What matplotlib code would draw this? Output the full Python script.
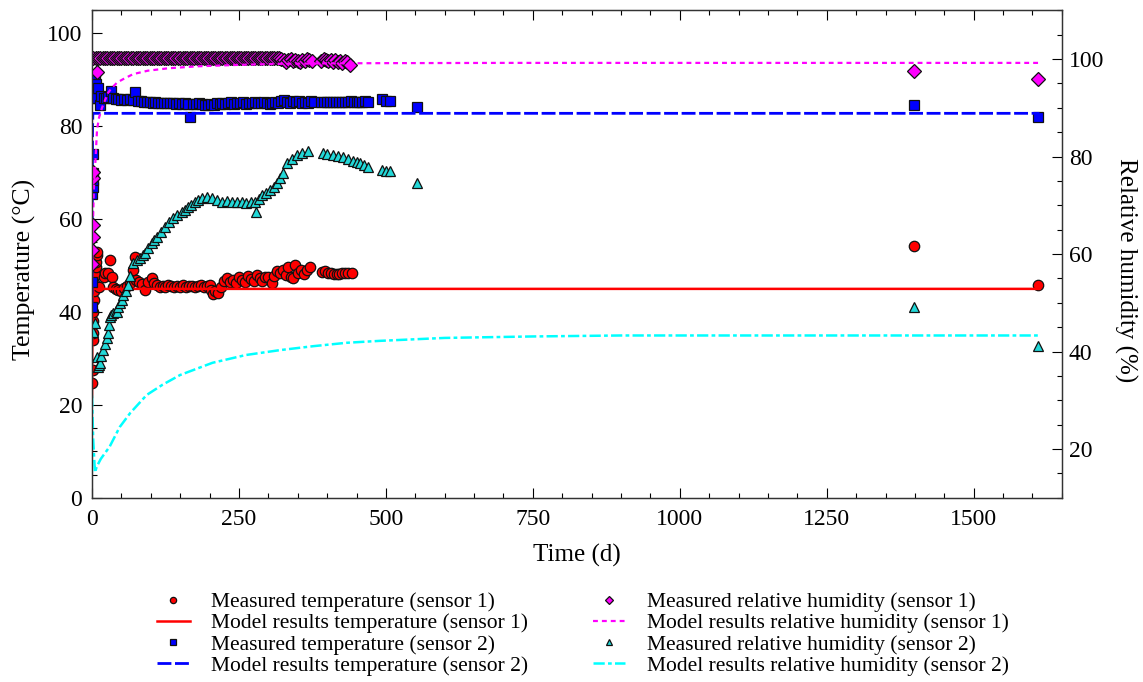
import matplotlib
matplotlib.use('Agg')
import matplotlib.pyplot as plt
from matplotlib.ticker import MultipleLocator

plt.rcParams['font.family'] = ['Liberation Serif', 'DejaVu Serif']

# measured temperature, sensor 1 (red circles)
t_temp1 = [0.5, 1.0, 1.3, 1.6, 2.0, 2.3, 2.6, 3.0, 4.0, 5.0, 6.0, 7.0, 8.0, 9.0,
           12, 20, 22, 27, 31, 34, 36, 40, 45, 50, 55, 60, 65, 70, 73, 75, 80, 85,
           90, 95, 102, 105, 110, 115, 120, 125, 130, 135, 140, 145, 150, 155, 160,
           165, 170, 175, 180, 185, 190, 195, 200, 203, 206, 210, 214, 220, 225,
           230, 235, 240, 245, 250, 255, 260, 265, 270, 275, 280, 285, 290, 295,
           300, 306, 310, 315, 320, 325, 330, 334, 338, 342, 345, 351, 355, 360,
           365, 371, 391, 396, 401, 406, 411, 416, 421, 426, 431, 436, 442,
           1398, 1610]
temp1 = [24.7, 27.5, 34.0, 35.5, 38.0, 40.0, 42.5, 44.5, 46.2, 48.0, 49.7, 50.8,
         52.3, 52.9, 45.5, 47.5, 48.5, 48.4, 51.2, 47.5, 45.4, 45.0, 44.8, 44.6,
         45.2, 45.6, 46.3, 49.0, 51.8, 47.0, 46.5, 46.0, 44.7, 46.4, 47.3, 46.2,
         45.9, 45.5, 45.7, 45.4, 45.8, 45.6, 45.3, 45.7, 45.5, 45.8, 45.4, 45.6,
         45.7, 45.3, 45.6, 45.8, 45.5, 45.7, 45.8, 44.8, 43.8, 44.6, 44.1, 45.5,
         46.8, 47.3, 46.5, 47.0, 46.2, 47.5, 47.0, 46.5, 47.8, 47.2, 46.6, 47.9,
         47.4, 46.7, 47.5, 47.5, 46.2, 47.8, 48.8, 48.4, 49.0, 48.0, 49.7, 47.5,
         47.3, 50.1, 48.4, 49.0, 48.2, 49.0, 49.7, 48.6, 48.8, 48.4, 48.4, 48.3,
         48.3, 48.3, 48.4, 48.4, 48.5, 48.4, 54.3, 45.8]

# measured temperature, sensor 2 (blue squares)
t_temp2 = [0.2, 0.4, 0.8, 1.0, 1.3, 1.6, 2.0, 2.5, 3.0, 3.5, 4.0, 5, 6, 7, 8, 9,
           11, 13, 16, 20, 24, 28, 32, 36, 40, 45, 50, 55, 60, 65, 70, 73, 78, 83,
           88, 93, 98, 103, 108, 113, 118, 123, 128, 133, 138, 143, 148, 153, 158,
           163, 167, 172, 177, 182, 187, 192, 197, 202, 207, 212, 217, 222, 227,
           232, 237, 242, 247, 252, 257, 262, 267, 272, 277, 282, 287, 292, 297,
           302, 307, 312, 317, 322, 327, 332, 337, 342, 347, 352, 357, 362, 367,
           372, 377, 390, 395, 400, 405, 410, 415, 420, 425, 430, 435, 440, 445,
           450, 455, 460, 465, 470, 493, 500, 507, 553, 1398, 1610]
temp2 = [41.0, 46.4, 65.5, 67.0, 68.5, 70.0, 74.0, 86.0, 88.2, 90.3, 89.2, 90.5,
         89.2, 88.0, 86.8, 86.0, 88.2, 84.5, 86.5, 86.0, 86.2, 86.4, 87.7, 86.0,
         85.9, 85.8, 85.7, 85.8, 85.6, 85.9, 85.6, 87.3, 85.5, 85.4, 85.3, 85.2,
         85.3, 85.1, 85.2, 85.1, 85.0, 85.0, 85.1, 85.0, 85.0, 84.9, 85.0, 84.9,
         85.0, 84.9, 82.1, 84.8, 84.9, 85.0, 84.8, 84.6, 84.5, 84.8, 84.6, 85.0,
         84.8, 85.1, 84.8, 85.0, 85.2, 84.9, 85.1, 85.0, 85.2, 84.9, 85.1, 85.0,
         85.3, 85.1, 85.0, 85.2, 85.0, 84.9, 85.1, 85.3, 85.0, 85.5, 85.6, 85.3,
         85.0, 85.4, 85.2, 85.5, 85.0, 85.3, 85.1, 85.4, 85.3, 85.2, 85.2, 85.3,
         85.2, 85.3, 85.2, 85.3, 85.2, 85.3, 85.2, 85.4, 85.2, 85.3, 85.2, 85.3,
         85.4, 85.3, 85.8, 85.5, 85.4, 84.1, 84.7, 82.1]

# measured relative humidity, sensor 1 (magenta diamonds)
t_rh1_early = [0.3, 0.6, 1.0, 1.3, 1.6, 2.0, 8.5]
rh1_early = [58.0, 60.8, 63.5, 65.9, 75.6, 76.8, 97.3]
t_rh1_band = [2, 6, 10, 14, 18, 22, 26, 30, 34, 38,
              42, 46, 50, 54, 58, 62, 66, 70, 74, 78,
              82, 86, 90, 94, 98, 102, 106, 110, 114, 118,
              122, 126, 130, 134, 138, 142, 146, 150, 154, 158,
              162, 166, 170, 174, 178, 182, 186, 190, 194, 198,
              202, 206, 210, 214, 218, 222, 226, 230, 234, 238,
              242, 246, 250, 254, 258, 262, 266, 270, 274, 278,
              282, 286, 290, 294, 298, 302, 306, 310, 314, 318]
rh1_band = [100.2, 100.2, 100.2, 100.2, 100.2, 100.2, 100.2, 100.2, 100.2, 100.2,
            100.2, 100.2, 100.2, 100.2, 100.2, 100.2, 100.2, 100.2, 100.2, 100.2,
            100.2, 100.2, 100.2, 100.2, 100.2, 100.2, 100.2, 100.2, 100.2, 100.2,
            100.2, 100.2, 100.2, 100.2, 100.2, 100.2, 100.2, 100.2, 100.2, 100.2,
            100.2, 100.2, 100.2, 100.2, 100.2, 100.2, 100.2, 100.2, 100.2, 100.2,
            100.2, 100.2, 100.2, 100.2, 100.2, 100.2, 100.2, 100.2, 100.2, 100.2,
            100.2, 100.2, 100.2, 100.2, 100.2, 100.2, 100.2, 100.2, 100.2, 100.2,
            100.2, 100.2, 100.2, 100.2, 100.2, 100.2, 100.2, 100.2, 100.2, 100.2]
t_rh1_late = [322, 326, 330, 334, 338, 342, 346, 350, 354, 358, 362, 366, 370, 374,
              390, 394, 398, 402, 406, 410, 414, 418, 422, 426, 430, 434, 439,
              1398, 1610]
rh1_late = [100.0, 99.8, 99.4, 99.7, 99.9, 99.5, 99.8, 99.6, 99.3, 99.8, 99.5, 99.9,
            99.8, 99.5,
            99.6, 100.0, 99.7, 99.5, 99.8, 99.4, 99.7, 99.3, 99.6, 99.2, 99.5, 99.3,
            98.7,
            97.5, 95.9]
t_rh1 = t_rh1_early + t_rh1_band + t_rh1_late
rh1 = rh1_early + rh1_band + rh1_late

# measured relative humidity, sensor 2 (cyan triangles)
t_rh2 = [2, 5, 8.5, 10, 12, 13.6, 16, 18.7, 22, 25.5, 27, 29, 30.6, 33, 35.7, 40,
         42.5, 44, 48, 51, 52.7, 57, 61, 65, 70, 76, 82, 86, 90, 96, 102, 106,
         110.5, 117, 124, 131, 138, 145, 153, 158, 163, 169, 175, 181, 187, 195,
         204, 212, 221, 229, 238, 246, 255, 262, 270, 277, 279, 284, 289, 296,
         303, 309, 315, 320, 325, 332, 340, 349, 358, 367, 393, 400, 410, 418,
         427, 435, 444, 450, 456, 463, 469, 493, 500, 507, 553, 1398, 1610]
rh2 = [44.0, 45.9, 38.9, 36.8, 37.2, 37.7, 39.0, 40.3, 41.5, 42.8, 43.8, 45.5,
       47.1, 47.5, 47.9, 48.3, 48.1, 49.1, 50.0, 50.6, 51.6, 52.5, 53.6, 55.5,
       58.2, 58.8, 59.2, 59.8, 60.2, 61.3, 62.3, 62.9, 63.5, 64.5, 65.5, 66.5,
       67.4, 68.0, 68.6, 69.1, 69.6, 70.1, 70.6, 71.0, 71.5, 71.6, 71.5, 71.0,
       70.7, 70.9, 70.7, 70.6, 70.7, 70.5, 70.6, 70.7, 68.6, 71.3, 72.1, 72.6,
       73.1, 73.8, 74.5, 75.5, 76.6, 78.6, 79.5, 80.3, 80.7, 81.1, 80.7, 80.5,
       80.3, 80.1, 79.9, 79.5, 79.1, 78.9, 78.6, 78.2, 77.8, 77.2, 77.0, 77.0,
       74.5, 49.2, 41.2]

# model results
t_mod_temp1 = [0, 0.5, 1.0, 1.5, 1612]
mod_temp1 = [21.7, 35.0, 43.0, 45.0, 45.0]
t_mod_temp2 = [0, 0.5, 1.0, 1.5, 1612]
mod_temp2 = [40.0, 65.0, 80.0, 82.8, 82.8]
t_mod_rh1 = [0, 1, 2, 3, 5, 8.5, 12, 17, 22, 27, 33, 43, 55, 70, 95, 130, 180,
             250, 320, 400, 500, 700, 1000, 1612]
mod_rh1 = [55.0, 62.0, 68.0, 73.0, 77.2, 85.5, 88.0, 90.0, 91.5, 93.0, 94.0,
           95.2, 96.0, 96.9, 97.6, 98.1, 98.5, 98.8, 99.0, 99.1, 99.15, 99.2,
           99.2, 99.2]
t_mod_rh2 = [0, 2, 5, 8, 15, 30, 47, 65, 93, 120, 150, 205, 262, 320, 376, 433,
             490, 600, 750, 900, 1200, 1612]
mod_rh2 = [31.0, 22.0, 15.2, 16.4, 18.0, 20.5, 24.5, 27.4, 31.1, 33.2, 35.2,
           37.7, 39.3, 40.3, 41.1, 41.8, 42.2, 42.8, 43.1, 43.3, 43.3, 43.3]

fig = plt.figure(figsize=(11.43, 6.82), dpi=100)
ax = fig.add_axes([0.0805, 0.27, 0.8485, 0.715])
ax2 = ax.twinx()

mk = dict(linestyle='none', markeredgecolor='#111111', markeredgewidth=0.9)
h1, = ax.plot(t_temp1, temp1, marker='o', markersize=7.5, markerfacecolor='#ff0000',
              label='Measured temperature (sensor 1)', **mk)
h2, = ax.plot(t_mod_temp1, mod_temp1, color='#ff0000', lw=1.8,
              label='Model results temperature (sensor 1)')
h3, = ax.plot(t_temp2, temp2, marker='s', markersize=7, markerfacecolor='#0000ff',
              label='Measured temperature (sensor 2)', **mk)
h4, = ax.plot(t_mod_temp2, mod_temp2, color='#0000ff', lw=2, dashes=(5, 1.3),
              label='Model results temperature (sensor 2)')

h5, = ax2.plot(t_rh1, rh1, marker='D', markersize=7, markerfacecolor='#ff00ff',
               label='Measured relative humidity (sensor 1)', **mk)
h6, = ax2.plot(t_mod_rh1, mod_rh1, color='#ff00ff', lw=1.6, dashes=(2.2, 1.8),
               label='Model results relative humidity (sensor 1)')
h7, = ax2.plot(t_rh2, rh2, marker='^', markersize=7.5, markerfacecolor='#22d8d8',
               label='Measured relative humidity (sensor 2)', **mk)
h8, = ax2.plot(t_mod_rh2, mod_rh2, color='#00ffff', lw=1.8, dashes=(4.5, 1.3, 1.5, 1.3),
               label='Model results relative humidity (sensor 2)')

ax.set_xlim(0, 1650)
ax.set_ylim(0, 105)
ax2.set_ylim(10, 110)

ax.xaxis.set_major_locator(MultipleLocator(250))
ax.xaxis.set_minor_locator(MultipleLocator(50))
ax.yaxis.set_major_locator(MultipleLocator(20))
ax.yaxis.set_minor_locator(MultipleLocator(5))
ax2.yaxis.set_major_locator(MultipleLocator(20))
ax2.yaxis.set_minor_locator(MultipleLocator(5))

ax.tick_params(which='both', direction='in', top=True, right=False, labelsize=17)
ax.tick_params(which='major', length=7, width=0.8)
ax.tick_params(which='minor', length=3.5, width=0.8)
ax.tick_params(axis='y', pad=7)
ax.tick_params(axis='x', pad=8)
ax2.tick_params(which='both', direction='in', labelsize=17, pad=5)
ax2.tick_params(which='major', length=7, width=0.8)
ax2.tick_params(which='minor', length=3.5, width=0.8)

for a in (ax, ax2):
    for s in a.spines.values():
        s.set_linewidth(0.9)
        s.set_color('#333333')

ax.set_xlabel('Time (d)', fontsize=18, labelpad=10)
ax.set_ylabel('Temperature (°C)', fontsize=18.5, labelpad=8)
ax2.set_ylabel('Relative humidity (%)', fontsize=18, rotation=270, labelpad=24)
ax.yaxis.label.set_y(0.468)
ax2.yaxis.label.set_y(0.468)

fig.legend(handles=[h1, h2, h3, h4, h5, h6, h7, h8], loc='upper center',
           bbox_to_anchor=(0.51, 0.16), ncol=2, frameon=False, fontsize=15.5,
           markerscale=0.6, handlelength=1.5, handletextpad=1.0,
           columnspacing=3.0, labelspacing=0.05)

fig.savefig('out.png', dpi=100)
